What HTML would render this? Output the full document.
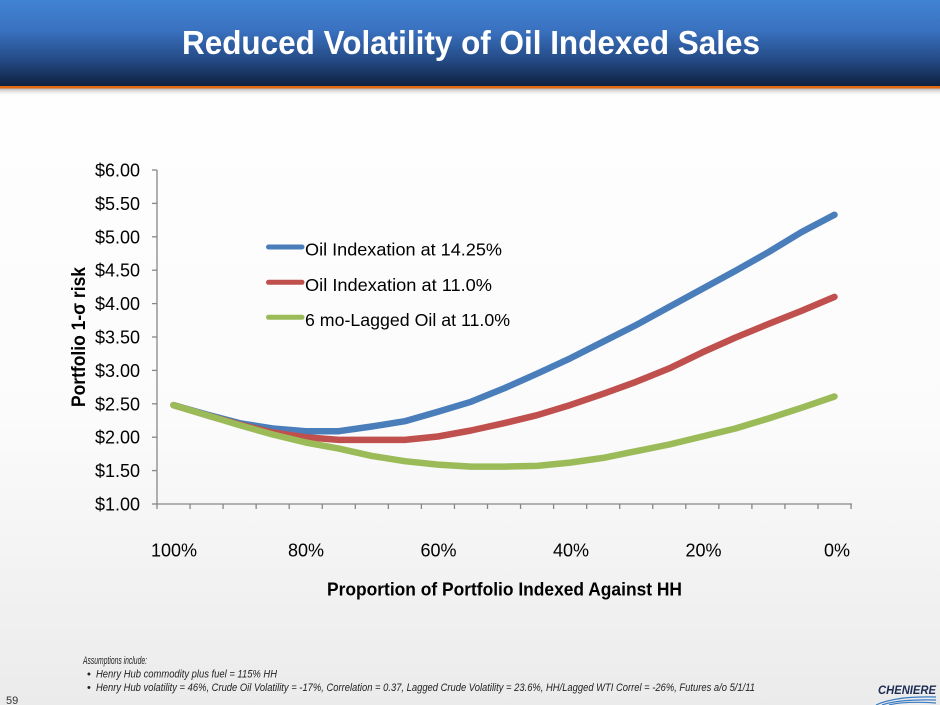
<!DOCTYPE html>
<html>
<head>
<meta charset="utf-8">
<style>
  html, body { margin:0; padding:0; }
  body { width:940px; height:705px; overflow:hidden; background:#fff; }
  svg { display:block; }
  text { font-family: "Liberation Sans", "DejaVu Sans", sans-serif; }
</style>
</head>
<body>
<svg width="940" height="705" viewBox="0 0 940 705" xmlns="http://www.w3.org/2000/svg">
  <defs>
    <linearGradient id="hdr" x1="0" y1="0" x2="0" y2="1">
      <stop offset="0" stop-color="#4183d3"/>
      <stop offset="0.35" stop-color="#3a72c0"/>
      <stop offset="0.7" stop-color="#244a85"/>
      <stop offset="1" stop-color="#0f2140"/>
    </linearGradient>
    <linearGradient id="bg" x1="0" y1="0" x2="0" y2="1">
      <stop offset="0" stop-color="#ffffff"/>
      <stop offset="0.6" stop-color="#fbfbfb"/>
      <stop offset="1" stop-color="#ebebeb"/>
    </linearGradient>
    <linearGradient id="shadow" x1="0" y1="0" x2="0" y2="1">
      <stop offset="0" stop-color="#9a9a9a" stop-opacity="0.7"/>
      <stop offset="1" stop-color="#ffffff" stop-opacity="0"/>
    </linearGradient>
  </defs>

  <rect x="0" y="0" width="940" height="705" fill="url(#bg)"/>

  <rect x="0" y="0" width="940" height="86" fill="url(#hdr)"/>
  <rect x="0" y="86" width="940" height="2.5" fill="#e2690f"/>
  <rect x="0" y="88.5" width="940" height="8" fill="url(#shadow)"/>
  <text x="471" y="54" text-anchor="middle" font-size="33" font-weight="bold" fill="#ffffff"
        textLength="578" lengthAdjust="spacingAndGlyphs">Reduced Volatility of Oil Indexed Sales</text>

  <g stroke="#878787" stroke-width="1.3" fill="none">
    <line x1="157" y1="170" x2="157" y2="504.5"/>
    <line x1="157" y1="504" x2="852" y2="504"/>
    <line x1="152" y1="170" x2="157" y2="170"/>
    <line x1="152" y1="203.4" x2="157" y2="203.4"/>
    <line x1="152" y1="236.8" x2="157" y2="236.8"/>
    <line x1="152" y1="270.2" x2="157" y2="270.2"/>
    <line x1="152" y1="303.6" x2="157" y2="303.6"/>
    <line x1="152" y1="337" x2="157" y2="337"/>
    <line x1="152" y1="370.4" x2="157" y2="370.4"/>
    <line x1="152" y1="403.8" x2="157" y2="403.8"/>
    <line x1="152" y1="437.2" x2="157" y2="437.2"/>
    <line x1="152" y1="470.6" x2="157" y2="470.6"/>
    <line x1="152" y1="504" x2="157" y2="504"/>
    <line x1="157" y1="504" x2="157" y2="509"/>
    <line x1="190.05" y1="504" x2="190.05" y2="509"/>
    <line x1="223.1" y1="504" x2="223.1" y2="509"/>
    <line x1="256.15" y1="504" x2="256.15" y2="509"/>
    <line x1="289.2" y1="504" x2="289.2" y2="509"/>
    <line x1="322.25" y1="504" x2="322.25" y2="509"/>
    <line x1="355.3" y1="504" x2="355.3" y2="509"/>
    <line x1="388.35" y1="504" x2="388.35" y2="509"/>
    <line x1="421.4" y1="504" x2="421.4" y2="509"/>
    <line x1="454.45" y1="504" x2="454.45" y2="509"/>
    <line x1="487.5" y1="504" x2="487.5" y2="509"/>
    <line x1="520.55" y1="504" x2="520.55" y2="509"/>
    <line x1="553.6" y1="504" x2="553.6" y2="509"/>
    <line x1="586.65" y1="504" x2="586.65" y2="509"/>
    <line x1="619.7" y1="504" x2="619.7" y2="509"/>
    <line x1="652.75" y1="504" x2="652.75" y2="509"/>
    <line x1="685.8" y1="504" x2="685.8" y2="509"/>
    <line x1="718.85" y1="504" x2="718.85" y2="509"/>
    <line x1="751.9" y1="504" x2="751.9" y2="509"/>
    <line x1="784.95" y1="504" x2="784.95" y2="509"/>
    <line x1="818" y1="504" x2="818" y2="509"/>
    <line x1="851.05" y1="504" x2="851.05" y2="509"/>
  </g>

  <g font-size="18" fill="#000" text-anchor="end">
    <text x="140" y="176.5">$6.00</text>
    <text x="140" y="209.9">$5.50</text>
    <text x="140" y="243.3">$5.00</text>
    <text x="140" y="276.7">$4.50</text>
    <text x="140" y="310.1">$4.00</text>
    <text x="140" y="343.5">$3.50</text>
    <text x="140" y="376.9">$3.00</text>
    <text x="140" y="410.3">$2.50</text>
    <text x="140" y="443.7">$2.00</text>
    <text x="140" y="477.1">$1.50</text>
    <text x="140" y="510.5">$1.00</text>
  </g>

  <g font-size="18" fill="#000" text-anchor="middle">
    <text x="174" y="556.5">100%</text>
    <text x="306" y="556.5">80%</text>
    <text x="438.5" y="556.5">60%</text>
    <text x="571" y="556.5">40%</text>
    <text x="703.5" y="556.5">20%</text>
    <text x="837" y="556.5">0%</text>
  </g>

  <text x="504.5" y="595.5" text-anchor="middle" font-size="18" font-weight="bold" fill="#000"
        textLength="355" lengthAdjust="spacingAndGlyphs">Proportion of Portfolio Indexed Against HH</text>
  <text transform="translate(85,337) rotate(-90)" x="0" y="0" text-anchor="middle" font-size="19" font-weight="bold" fill="#000"
        textLength="140" lengthAdjust="spacingAndGlyphs">Portfolio 1-σ risk</text>

  <g fill="none" stroke-width="6.5" stroke-linecap="round" stroke-linejoin="round">
    <polyline stroke="#4a7ebb" points="173.5,405.1 206.55,414.5 239.6,423.2 272.65,428.5 305.7,431.2 338.75,431.2 371.8,426.5 404.85,421.2 437.9,411.8 470.95,401.8 504,388.4 537.05,373.7 570.1,358.4 603.15,341.7 636.2,325 669.25,306.9 702.3,288.9 735.35,270.9 768.4,252.2 801.45,232.1 834.5,214.8"/>
    <polyline stroke="#c0504d" points="173.5,405.1 206.55,415.2 239.6,424.5 272.65,432.5 305.7,437.2 338.75,439.9 371.8,439.9 404.85,439.9 437.9,436.5 470.95,430.5 504,423.2 537.05,415.2 570.1,405.1 603.15,393.8 636.2,381.8 669.25,368.4 702.3,352.4 735.35,337.6 768.4,324 801.45,310.9 834.5,296.9"/>
    <polyline stroke="#9bbb59" points="173.5,405.1 206.55,415.2 239.6,425.2 272.65,434.5 305.7,442.5 338.75,448.6 371.8,455.9 404.85,461.2 437.9,464.6 470.95,466.6 504,466.6 537.05,465.9 570.1,462.6 603.15,457.9 636.2,451.2 669.25,444.5 702.3,436.5 735.35,428.5 768.4,418.5 801.45,407.8 834.5,396.5"/>
  </g>

  <g stroke-width="5" stroke-linecap="round">
    <line x1="268.5" y1="247" x2="302" y2="247" stroke="#4a7ebb"/>
    <line x1="268.5" y1="282.3" x2="302" y2="282.3" stroke="#c0504d"/>
    <line x1="268.5" y1="317.3" x2="302" y2="317.3" stroke="#9bbb59"/>
  </g>
  <g font-size="17.5" fill="#000">
    <text x="305" y="255.5" textLength="197" lengthAdjust="spacingAndGlyphs">Oil Indexation at 14.25%</text>
    <text x="305" y="291" textLength="187" lengthAdjust="spacingAndGlyphs">Oil Indexation at 11.0%</text>
    <text x="305" y="326" textLength="205" lengthAdjust="spacingAndGlyphs">6 mo-Lagged Oil at 11.0%</text>
  </g>

  <g font-size="11" font-style="italic" fill="#222">
    <text x="83" y="664" textLength="64" lengthAdjust="spacingAndGlyphs">Assumptions include:</text>
    <text x="87" y="677.5" font-style="normal">•</text>
    <text x="96" y="677.5" textLength="181" lengthAdjust="spacingAndGlyphs">Henry Hub commodity plus fuel = 115% HH</text>
    <text x="87" y="691" font-style="normal">•</text>
    <text x="96" y="691" textLength="659" lengthAdjust="spacingAndGlyphs">Henry Hub volatility = 46%, Crude Oil Volatility = -17%, Correlation = 0.37, Lagged Crude Volatility = 23.6%, HH/Lagged WTI Correl = -26%, Futures a/o 5/1/11</text>
  </g>
  <text x="6" y="704" font-size="11" fill="#333">59</text>

  <text x="878" y="694" font-size="12" font-weight="bold" font-style="italic" fill="#1b2c55"
        textLength="58" lengthAdjust="spacingAndGlyphs">CHENIERE</text>
  <g fill="none" stroke="#3a7cc4" stroke-width="1.2">
    <path d="M876,705 Q895,696 936,697"/>
    <path d="M882,705 Q899,699 936,700"/>
    <path d="M889,705 Q904,701 936,703"/>
  </g>
</svg>
</body>
</html>
